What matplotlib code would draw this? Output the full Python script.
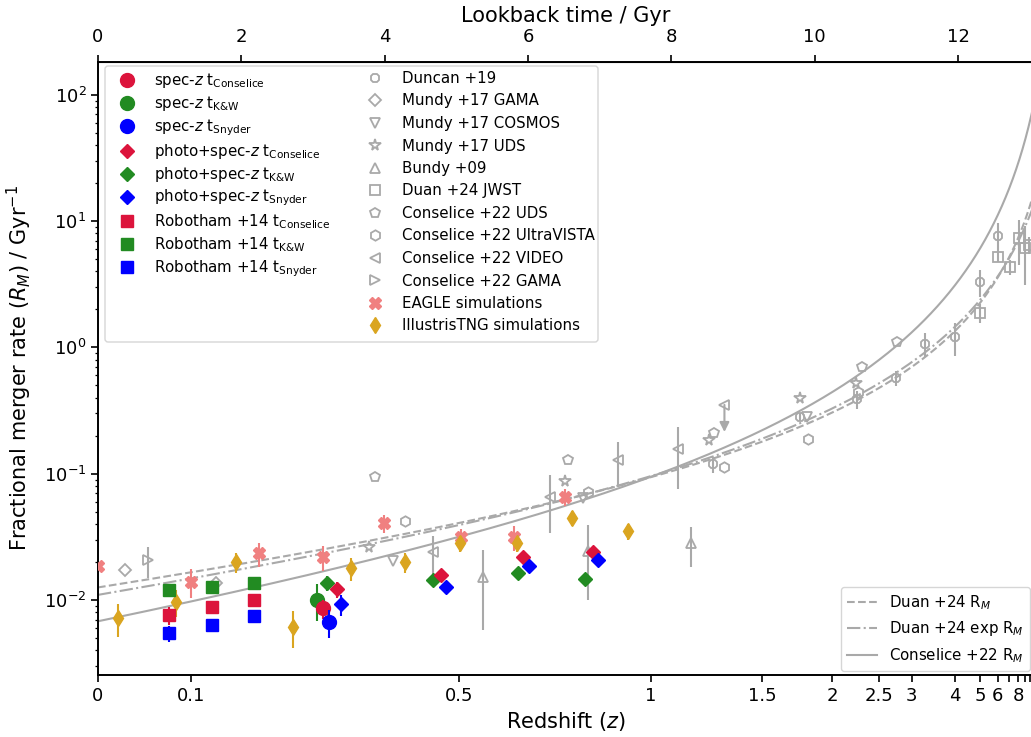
import numpy as np
import matplotlib.pyplot as plt
from matplotlib.lines import Line2D
from matplotlib.patches import FancyBboxPatch

# flat LCDM used for the lookback-time axis
H0 = 70.0
Om = 0.3
OL = 1.0 - Om
t_H = 977.8 / H0  # Hubble time in Gyr


def age(z):
    z = np.asarray(z, dtype=float)
    return 2 * t_H / (3 * np.sqrt(OL)) * np.arcsinh(np.sqrt(OL / Om) * (1 + z) ** -1.5)


def lookback(z):
    return age(0.0) - age(z)


# ---- our measurements (x = lookback time in Gyr) ----
spec_t = [3.14, 3.06, 3.22]                 # Conselice, K&W, Snyder
spec_R = [0.0086, 0.0101, 0.0067]
spec_err = [0.0015, 0.0033, 0.0017]

photo_t_con = [3.33, 4.78, 5.93, 6.90]
photo_R_con = [0.0122, 0.0158, 0.0220, 0.0241]
photo_t_kw = [3.20, 4.68, 5.86, 6.80]
photo_R_kw = [0.0137, 0.0144, 0.0164, 0.0146]
photo_t_sny = [3.39, 4.85, 6.02, 6.97]
photo_R_sny = [0.00925, 0.0127, 0.0187, 0.0206]
photo_err = [0.0018, 0.0015, 0.0012, 0.0012]

rob_t = [0.985, 1.59, 2.18]
rob_R_con = [0.0076, 0.00875, 0.0101]
rob_R_kw = [0.0120, 0.0127, 0.0136]
rob_R_sny = [0.00545, 0.00634, 0.00747]
rob_e_con = [0.0012, 0.0, 0.0]
rob_e_kw = [0.0015, 0.0, 0.0]
rob_e_sny = [0.0008, 0.0, 0.0]

# ---- literature ----
duncan_t = [8.58, 9.80, 10.59, 11.14, 11.54, 11.95, 12.31, 12.55]
duncan_R = [0.119, 0.282, 0.391, 0.573, 1.07, 1.21, 3.30, 7.64]
duncan_e = [0.017, 0.02, 0.065, 0.08, 0.23, 0.36, 0.8, 2.0]

mundy_gama_t = [0.38, 1.65]
mundy_gama_R = [0.0173, 0.01355]
mundy_cosmos_t = [4.12, 6.77, 9.89]
mundy_cosmos_R = [0.0205, 0.0639, 0.283]
mundy_uds_t = [3.78, 6.52, 8.52, 9.79, 10.58]
mundy_uds_R = [0.0264, 0.0881, 0.185, 0.396, 0.520]

bundy_t = [5.37, 6.83, 8.27]
bundy_R = [0.0153, 0.0246, 0.0281]
bundy_e = [0.0095, 0.0145, 0.0098]

duan_t = [12.31, 12.55, 12.72, 12.85, 12.93, 12.99]
duan_R = [1.89, 5.24, 4.36, 7.33, 6.1, 6.5]
duan_e = [0.33, 0.5, 0.6, 2.8, 3.0, 1.0]

con_uds_t = [3.86, 6.56, 8.59, 10.66, 11.15]
con_uds_R = [0.0937, 0.1285, 0.211, 0.697, 1.11]
con_uv_t = [4.28, 6.84, 8.73, 9.91, 10.60]
con_uv_R = [0.0425, 0.0721, 0.1125, 0.1875, 0.447]
con_video_t = [4.68, 6.31, 7.25, 8.09]
con_video_R = [0.0241, 0.0658, 0.1285, 0.156]
con_video_e = [0.008, 0.032, 0.05, 0.08]
video_lim_t = [8.74]        # upper limit
video_lim_R = [0.351]
video_lim_e = [0.137]
con_gama_t = [0.70]
con_gama_R = [0.0207]
con_gama_e = [0.0058]

eagle_t = [0.0, 1.30, 2.24, 3.14, 3.99, 5.06, 5.80, 6.51]
eagle_R = [0.0186, 0.0140, 0.0234, 0.0218, 0.0405, 0.0317, 0.0317, 0.0658]
eagle_e = [0.0, 0.0037, 0.005, 0.0048, 0.0066, 0.0048, 0.007, 0.01]

tng_t = [0.286, 1.09, 1.93, 2.72, 3.53, 4.28, 5.05, 5.85, 6.62, 7.39]
tng_R = [0.00716, 0.0097, 0.0201, 0.00615, 0.0178, 0.0201, 0.0281, 0.0281, 0.0444, 0.0351]
tng_e = [0.0021, 0.0024, 0.0036, 0.002, 0.0037, 0.0036, 0.004, 0.004, 0.006, 0.005]

# fitted merger-rate histories
duan_a, duan_m = 0.0126, 2.9
duan_exp_a, duan_exp_m, duan_exp_b = 0.011, 3.25, -0.0875
con_a, con_m = 0.0068, 3.8

z_ticks = [0, 0.1, 0.5, 1, 1.5, 2, 2.5, 3, 4, 5, 6, 7, 8, 9, 10]
z_ticklabels = ["0", "0.1", "0.5", "1", "1.5", "2", "2.5", "3", "4", "5", "6", "", "8", "", ""]

grau = "darkgrey"
rot = "crimson"
gruen = "forestgreen"
blau = "blue"
eagle_c = "lightcoral"
tng_c = "goldenrod"
legsize = 10.8
labelsize = 15
ticksize = 13

fig = plt.figure(figsize=(10.31, 7.37), dpi=100)
ax = fig.add_axes([0.095, 0.084, 0.908, 0.832])

eb = dict(fmt="none", elinewidth=1.5, capsize=0)
op = dict(linestyle="none", mfc="none", mec=grau, mew=1.3, zorder=3)

# curves
z = np.linspace(0, 11, 2000)
tz = lookback(z)
ax.plot(tz, duan_a * (1 + z) ** duan_m, "--", color=grau, lw=1.5, label="Duan +24 R$_M$", zorder=1)
ax.plot(tz, duan_exp_a * (1 + z) ** duan_exp_m * np.exp(duan_exp_b * z), "-.", color=grau, lw=1.5,
        label="Duan +24 exp R$_M$", zorder=1)
ax.plot(tz, con_a * (1 + z) ** con_m, "-", color=grau, lw=1.5, label="Conselice +22 R$_M$", zorder=1)

# grey literature points
ax.errorbar(duncan_t, duncan_R, yerr=duncan_e, ecolor=grau, zorder=2, **eb)
ax.plot(duncan_t, duncan_R, marker="8", ms=7, **op)
ax.plot(mundy_gama_t, mundy_gama_R, marker="D", ms=6, **op)
ax.plot(mundy_cosmos_t, mundy_cosmos_R, marker="v", ms=7.5, **op)
ax.plot(mundy_uds_t, mundy_uds_R, marker="*", ms=8.5, **op)
ax.errorbar(bundy_t, bundy_R, yerr=bundy_e, ecolor=grau, zorder=2, **eb)
ax.plot(bundy_t, bundy_R, marker="^", ms=7.5, **op)
ax.errorbar(duan_t, duan_R, yerr=duan_e, ecolor=grau, zorder=2, **eb)
ax.plot(duan_t, duan_R, marker="s", ms=6.5, **op)
ax.plot(con_uds_t, con_uds_R, marker="p", ms=7.5, **op)
ax.plot(con_uv_t, con_uv_R, marker="h", ms=7.5, **op)
ax.errorbar(con_video_t, con_video_R, yerr=con_video_e, ecolor=grau, zorder=2, **eb)
for t, R, e in zip(video_lim_t, video_lim_R, video_lim_e):
    ax.annotate("", xy=(t, R - e), xytext=(t, R),
                arrowprops=dict(arrowstyle="-|>", color=grau, lw=1.5, mutation_scale=14,
                                shrinkA=0, shrinkB=0), zorder=2)
ax.plot(con_video_t + video_lim_t, con_video_R + video_lim_R, marker="<", ms=7.5, **op)
ax.errorbar(con_gama_t, con_gama_R, yerr=con_gama_e, ecolor=grau, zorder=2, **eb)
ax.plot(con_gama_t, con_gama_R, marker=">", ms=7.5, **op)

# simulations
ax.errorbar(eagle_t, eagle_R, yerr=eagle_e, ecolor=eagle_c, zorder=4, **eb)
ax.plot(eagle_t, eagle_R, "X", color=eagle_c, ms=8, zorder=4)
ax.errorbar(tng_t, tng_R, yerr=tng_e, ecolor=tng_c, zorder=4, **eb)
ax.plot(tng_t, tng_R, "d", color=tng_c, ms=7.8, zorder=4)

# Robotham +14 pairs
for R, e, c in [(rob_R_kw, rob_e_kw, gruen), (rob_R_con, rob_e_con, rot), (rob_R_sny, rob_e_sny, blau)]:
    ax.errorbar(rob_t, R, yerr=e, ecolor=c, zorder=5, **eb)
    ax.plot(rob_t, R, "s", color=c, ms=8.5, linestyle="none", zorder=5)

# photo+spec-z
for t, R, c in [(photo_t_kw, photo_R_kw, gruen), (photo_t_con, photo_R_con, rot), (photo_t_sny, photo_R_sny, blau)]:
    ax.errorbar(t, R, yerr=photo_err, ecolor=c, zorder=6, **eb)
    ax.plot(t, R, "D", color=c, ms=7, linestyle="none", zorder=6)

# spec-z
for i, c in [(1, gruen), (0, rot), (2, blau)]:
    ax.errorbar([spec_t[i]], [spec_R[i]], yerr=[spec_err[i]], ecolor=c, zorder=7, **eb)
    ax.plot([spec_t[i]], [spec_R[i]], "o", color=c, ms=10, zorder=7)

ax.set_yscale("log")
ax.set_xlim(0, 13.06)
ax.set_ylim(2.55e-3, 182)
ax.set_xticks(lookback(z_ticks))
ax.set_xticklabels(z_ticklabels)
ax.set_xlabel("Redshift ($z$)", fontsize=labelsize)
ax.set_ylabel("Fractional merger rate ($R_M$) / Gyr$^{-1}$", fontsize=labelsize, labelpad=7)
ax.tick_params(axis="both", which="major", labelsize=ticksize, length=4.8, width=1.2)
ax.tick_params(axis="y", which="minor", length=2.4, width=0.9)
for s in ax.spines.values():
    s.set_linewidth(1.4)

secax = ax.secondary_xaxis("top")
secax.set_xticks(np.arange(0, 13, 2))
secax.set_xlabel("Lookback time / Gyr", fontsize=labelsize)
secax.tick_params(labelsize=ticksize, length=4.8, width=1.2, pad=7)

# marker legend: two columns sharing one frame
mk = lambda **kw: Line2D([], [], linestyle="none", **kw)
gk = dict(mfc="none", mec=grau, mew=1.3)
handles_a = [
    mk(marker="o", color=rot, ms=10), mk(marker="o", color=gruen, ms=10), mk(marker="o", color=blau, ms=10),
    mk(marker="D", color=rot, ms=7), mk(marker="D", color=gruen, ms=7), mk(marker="D", color=blau, ms=7),
    mk(marker="s", color=rot, ms=8.5), mk(marker="s", color=gruen, ms=8.5), mk(marker="s", color=blau, ms=8.5),
]
kw_sub = r"t$_{\rm K&W}$"
labels_a = [
    r"spec-$z$ t$_{\rm Conselice}$", "spec-$z$ " + kw_sub, r"spec-$z$ t$_{\rm Snyder}$",
    r"photo+spec-$z$ t$_{\rm Conselice}$", "photo+spec-$z$ " + kw_sub, r"photo+spec-$z$ t$_{\rm Snyder}$",
    r"Robotham +14 t$_{\rm Conselice}$", "Robotham +14 " + kw_sub, r"Robotham +14 t$_{\rm Snyder}$",
]
handles_b = [
    mk(marker="8", ms=7, **gk), mk(marker="D", ms=6, **gk), mk(marker="v", ms=7.5, **gk),
    mk(marker="*", ms=8.5, **gk), mk(marker="^", ms=7.5, **gk), mk(marker="s", ms=6.5, **gk),
    mk(marker="p", ms=7.5, **gk), mk(marker="h", ms=7.5, **gk), mk(marker="<", ms=7.5, **gk),
    mk(marker=">", ms=7.5, **gk), mk(marker="X", color=eagle_c, ms=8), mk(marker="d", color=tng_c, ms=7.8),
]
labels_b = [
    "Duncan +19", "Mundy +17 GAMA", "Mundy +17 COSMOS", "Mundy +17 UDS", "Bundy +09", "Duan +24 JWST",
    "Conselice +22 UDS", "Conselice +22 UltraVISTA", "Conselice +22 VIDEO", "Conselice +22 GAMA",
    "EAGLE simulations", "IllustrisTNG simulations",
]
W, H = 1031.0, 737.0
frame = FancyBboxPatch((105 / W, 1 - 342 / H), (598 - 105) / W, (342 - 66) / H,
                       boxstyle="round,pad=0,rounding_size=0.003", mutation_aspect=W / H,
                       transform=fig.transFigure, facecolor="white", edgecolor="0.8",
                       alpha=0.8, lw=1.0, zorder=9)
ax.add_patch(frame)
leg_a = ax.legend(handles_a, labels_a, loc="upper left", bbox_to_anchor=(106 / W, 1 - 65 / H),
                  bbox_transform=fig.transFigure, borderaxespad=0, frameon=False,
                  fontsize=legsize, labelspacing=0.27)
leg_a.set_zorder(10)
ax.add_artist(leg_a)
leg_b = ax.legend(handles_b, labels_b, loc="upper left", bbox_to_anchor=(354 / W, 1 - 65 / H),
                  bbox_transform=fig.transFigure, borderaxespad=0, frameon=False,
                  fontsize=legsize)
leg_b.set_zorder(10)
ax.add_artist(leg_b)

line_handles = ax.get_lines()[:3]
ax.legend(line_handles, [l.get_label() for l in line_handles], loc="lower right", fontsize=legsize,
          borderaxespad=0.3)

fig.savefig("out.png", dpi=100)
